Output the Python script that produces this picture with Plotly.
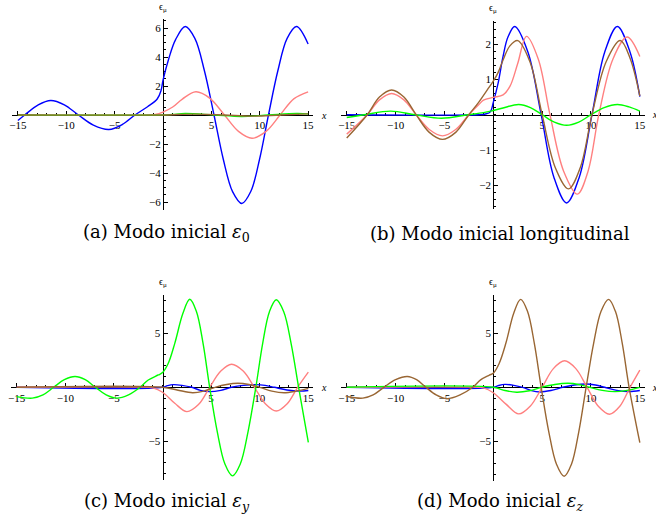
import plotly.graph_objects as go

# ---------------- data ----------------
x_ticks = [-15, -10, -5, 5, 10, 15]
a_y_ticks = [-6, -4, -2, 2, 4, 6]
b_y_ticks = [-2, -1, 1, 2]
c_y_ticks = [-5, 5]
d_y_ticks = [-5, 5]

captions = ["(a) Modo inicial <i>ε</i><sub>0</sub>",
            "(b) Modo inicial longitudinal",
            "(c) Modo inicial <i>ε</i><sub><i>y</i></sub>",
            "(d) Modo inicial <i>ε</i><sub><i>z</i></sub>"]

# panel (a)
a_blue_x = [-15, -14.3, -12.9, -11.6, -10.2, -8.75, -7.2, -5.6, -4.2, -2.9, -1.6, -0.6, -0.2, 0, 0.6, 1.3, 2.3, 3.29, 4.28, 5.27, 6.23, 7.19, 8.15, 9.07, 9.98, 10.9, 11.87, 12.83, 13.8, 15]
a_blue_y = [-0.38, 0, 0.7, 1.0, 0.7, 0, -0.7, -1.0, -0.65, 0, 0.57, 1.1, 1.7, 2.4, 3.9, 5.2, 6.1, 5.28, 3.05, 0, -3.05, -5.28, -6.1, -5.28, -3.05, 0, 3.05, 5.28, 6.1, 4.9]
a_pink_x = [-15, -1.5, -0.8, 0, 1, 2, 3.4, 4.85, 6.35, 7.8, 9.2, 10.65, 12.1, 13.55, 15]
a_pink_y = [0, 0, 0.03, 0.2, 0.55, 1.1, 1.6, 1.15, 0, -1.13, -1.6, -1.13, 0, 1.13, 1.6]
a_green_x = [-15, 0, 1, 2.3, 5.3, 8.15, 10.9, 13.8, 15]
a_green_y = [0, 0, 0.04, 0.1, 0, -0.1, 0, 0.1, 0.08]
a_brown_x = [-15, 0, 1.5, 3.4, 6.35, 9.2, 12.1, 15]
a_brown_y = [0, 0, 0.03, 0.06, 0, -0.08, 0, 0.08]

# panel (b)
b_blue_x = [-15, -1.5, -0.8, -0.3, 0, 0.5, 1.0, 1.5, 2.2, 3.55, 4.9, 6.2, 7.5, 8.8, 10.1, 11.4, 12.7, 14.0, 15]
b_blue_y = [0, 0, 0.02, 0.08, 0.35, 0.9, 1.65, 2.2, 2.5, 1.77, 0, -1.77, -2.5, -1.77, 0, 1.77, 2.5, 1.77, 0.51]
b_pink_x = [-15, -12.9, -11.65, -10.4, -9.15, -7.9, -6.55, -5.2, -3.85, -2.5, -1.5, -1.0, 0, 1.0, 1.7, 2.5, 3.4, 4.6, 5.8, 7.2, 8.6, 9.7, 10.8, 12.25, 13.7, 15]
b_pink_y = [-0.55, 0, 0.42, 0.6, 0.42, 0, -0.42, -0.6, -0.42, 0, 0.28, 0.41, 0.49, 0.56, 0.8, 1.45, 2.22, 1.58, 0, -1.6, -2.25, -1.6, 0, 1.58, 2.2, 1.65]
b_green_x = [-15, -13.2, -10.5, -8.0, -5.3, -2.6, -1, 0, 1, 2.6, 3.8, 5.0, 6.25, 7.5, 8.75, 10.0, 11.35, 12.7, 13.9, 15]
b_green_y = [-0.08, 0, 0.1, 0, -0.1, 0, 0.06, 0.12, 0.19, 0.29, 0.2, 0, -0.21, -0.3, -0.21, 0, 0.2, 0.29, 0.22, 0.1]
b_brown_x = [-15, -12.9, -11.65, -10.4, -9.15, -7.9, -6.55, -5.2, -3.85, -2.5, -1.5, -0.5, 0, 0.5, 1.0, 1.7, 2.5, 3.75, 5.0, 6.35, 7.7, 8.9, 10.1, 11.55, 13.0, 14.0, 15]
b_brown_y = [-0.66, 0, 0.5, 0.7, 0.5, 0, -0.5, -0.7, -0.5, 0, 0.35, 0.75, 0.95, 1.2, 1.55, 1.95, 2.1, 1.5, 0, -1.5, -2.1, -1.5, 0, 1.5, 2.1, 1.6, 0.53]

# panel (c)
c_blue_x = [-15, 0, 0.5, 1.1, 2.0, 3.0, 3.9, 4.85, 6.0, 7.1, 8.35, 9.6, 10.55, 11.5, 12.8, 14.1, 15]
c_blue_y = [0, 0, 0.15, 0.25, 0.18, 0, -0.28, -0.4, -0.28, 0, 0.18, 0.25, 0.18, 0, -0.25, -0.35, -0.3]
c_pink_x = [-15, -1.5, -1, 0, 1.26, 2.5, 3.7, 4.85, 6.0, 7.1, 8.3, 9.45, 10.6, 11.7, 12.8, 13.9, 15]
c_pink_y = [0, 0, -0.05, -0.46, -1.48, -2.25, -1.6, 0, 1.5, 2.13, 1.5, 0, -1.55, -2.2, -1.55, 0, 1.4]
c_green_x = [-15, -13.4, -12.3, -11.2, -10.1, -9.0, -7.95, -6.9, -5.8, -4.7, -3.5, -2.3, -1.47, -0.44, 0, 0.58, 1.26, 2.1, 2.8, 3.48, 4.17, 4.85, 5.63, 6.42, 7.2, 8.0, 8.8, 9.6, 10.3, 11.0, 11.7, 12.47, 13.23, 14.0, 15]
c_green_y = [-0.86, -1.0, -0.7, 0, 0.7, 1.0, 0.7, 0, -0.7, -1.0, -0.7, 0, 0.68, 1.14, 1.36, 2.2, 4.07, 6.85, 8.15, 7.05, 4.07, 0, -4.1, -7.1, -8.2, -7.1, -4.1, 0, 4.05, 7.0, 8.1, 7.0, 4.05, 0, -5.1]
c_brown_x = [-15, 0, 1.5, 3.1, 4.25, 5.4, 6.6, 7.75, 8.9, 10.0, 11.25, 12.5, 13.75, 15]
c_brown_y = [0, 0, -0.25, -0.5, -0.35, 0, 0.26, 0.37, 0.26, 0, -0.35, -0.5, -0.35, -0.1]

# panel (d)
d_blue_x = [-15, 0, 0.5, 1.2, 2.1, 3.0, 3.9, 4.75, 5.9, 7.1, 8.3, 9.5, 10.45, 11.4, 12.65, 13.9, 15]
d_blue_y = [0, 0, 0.15, 0.27, 0.18, 0, -0.3, -0.43, -0.3, 0, 0.21, 0.3, 0.21, 0, -0.28, -0.4, -0.3]
d_pink_x = [-15, -1.5, -1, 0, 1.3, 2.6, 3.8, 5.0, 6.15, 7.3, 8.45, 9.6, 10.75, 11.9, 12.95, 14.0, 15]
d_pink_y = [0, 0, -0.05, -0.5, -1.55, -2.45, -1.72, 0, 1.72, 2.44, 1.72, 0, -1.75, -2.48, -1.75, 0, 1.58]
d_green_x = [-15, 0, 1.2, 2.4, 3.7, 4.95, 6.3, 7.65, 8.75, 9.85, 11.15, 12.45, 13.7, 15]
d_green_y = [0, 0, -0.3, -0.45, -0.32, 0, 0.26, 0.37, 0.26, 0, -0.28, -0.4, -0.28, 0]
d_brown_x = [-15, -13.35, -12.3, -11.2, -10.0, -8.8, -7.85, -6.9, -5.85, -4.75, -3.4, -2.1, -1.3, -0.4, 0, 0.6, 1.3, 2.1, 2.8, 3.5, 4.2, 4.9, 5.68, 6.47, 7.25, 8.0, 8.75, 9.5, 10.27, 11.03, 11.8, 12.5, 13.2, 13.9, 15]
d_brown_y = [-0.85, -1.0, -0.7, 0, 0.7, 1.0, 0.7, 0, -0.7, -1.05, -0.7, 0, 0.68, 1.12, 1.3, 2.2, 4.1, 6.85, 8.1, 7.0, 4.05, 0, -4.1, -7.1, -8.2, -7.1, -4.1, 0, 4.05, 7.0, 8.1, 7.0, 4.05, 0, -5.1]

# ---------------- styling / layout ----------------
W, H = 656, 523
BLUE, PINK, GREEN, BROWN = "rgb(0,0,255)", "rgb(255,128,128)", "rgb(0,255,0)", "rgb(153,102,51)"
TICKFONT = dict(family="Liberation Serif", size=11, color="black")

# per panel: origin pixel (ox, oy), px per unit (sx, sy), ranges, y ticks, minor y step
panels = [
    dict(ox=161.0, oy=115.0, sx=9.733, sy=14.5, xr=[-15.6, 15.5], yr=[-6.55, 6.6], yt=a_y_ticks, ym=0.5,
         curves=[(a_blue_x, a_blue_y, BLUE), (a_pink_x, a_pink_y, PINK), (a_green_x, a_green_y, GREEN), (a_brown_x, a_brown_y, BROWN)],
         cap=(165, 233)),
    dict(ox=493.3, oy=114.7, sx=9.83, sy=35.3, xr=[-15.6, 15.5], yr=[-2.68, 2.66], yt=b_y_ticks, ym=0.2,
         curves=[(b_blue_x, b_blue_y, BLUE), (b_pink_x, b_pink_y, PINK), (b_green_x, b_green_y, GREEN), (b_brown_x, b_brown_y, BROWN)],
         cap=(500, 233)),
    dict(ox=160.5, oy=387.3, sx=9.78, sy=10.8, xr=[-15.6, 15.5], yr=[-8.6, 8.55], yt=c_y_ticks, ym=1,
         curves=[(c_blue_x, c_blue_y, BLUE), (c_pink_x, c_pink_y, PINK), (c_green_x, c_green_y, GREEN), (c_brown_x, c_brown_y, BROWN)],
         cap=(165, 502)),
    dict(ox=493.3, oy=387.3, sx=9.83, sy=10.85, xr=[-15.6, 15.5], yr=[-8.6, 8.55], yt=d_y_ticks, ym=1,
         curves=[(d_blue_x, d_blue_y, BLUE), (d_pink_x, d_pink_y, PINK), (d_green_x, d_green_y, GREEN), (d_brown_x, d_brown_y, BROWN)],
         cap=(500, 502)),
]

fig = go.Figure()
annotations = []
layout = {}

for i, p in enumerate(panels):
    n = "" if i == 0 else str(i + 1)
    for xs, ys, col in p["curves"]:
        fig.add_trace(go.Scatter(x=xs, y=ys, mode="lines", line=dict(color=col, width=1.4, shape="spline", smoothing=1.0),
                                 xaxis="x" + n, yaxis="y" + n, showlegend=False, hoverinfo="skip"))
    ox, oy, sx, sy = p["ox"], p["oy"], p["sx"], p["sy"]
    xdom = [(ox + p["xr"][0] * sx) / W, (ox + p["xr"][1] * sx) / W]
    ydom = [1 - (oy - p["yr"][0] * sy) / H, 1 - (oy - p["yr"][1] * sy) / H]
    layout["xaxis" + n] = dict(domain=xdom, range=p["xr"], anchor="free", position=1 - oy / H, side="bottom",
                               showgrid=False, zeroline=False, showline=True, linecolor="black", linewidth=1.2,
                               tickmode="array", tickvals=x_ticks, ticks="inside", ticklen=4, tickwidth=1, tickcolor="black",
                               minor=dict(tickmode="linear", tick0=0, dtick=1, ticks="inside", ticklen=2, tickwidth=1, tickcolor="black"),
                               tickfont=TICKFONT, layer="below traces", fixedrange=True)
    layout["yaxis" + n] = dict(domain=ydom, range=p["yr"], anchor="free", position=ox / W, side="left",
                               showgrid=False, zeroline=False, showline=True, linecolor="black", linewidth=1.2,
                               tickmode="array", tickvals=p["yt"], ticks="inside", ticklen=4, tickwidth=1, tickcolor="black",
                               minor=dict(tickmode="linear", tick0=0, dtick=p["ym"], ticks="inside", ticklen=2, tickwidth=1, tickcolor="black"),
                               tickfont=TICKFONT, layer="below traces", fixedrange=True)
    # axis labels
    annotations.append(dict(text="ϵ<sub>μ</sub>", x=ox / W, y=1 - (oy - p["yr"][1] * sy - 12) / H, xref="paper", yref="paper",
                            xanchor="center", yanchor="middle",
                            showarrow=False, font=dict(family="Liberation Serif", size=10, color="black")))
    annotations.append(dict(text="<i>x</i>", x=(ox + 16.6 * sx) / W, y=1 - oy / H, xref="paper", yref="paper",
                            xanchor="center", yanchor="middle",
                            showarrow=False, font=dict(family="Liberation Serif", size=10, color="black")))
    cx, cy = p["cap"]
    annotations.append(dict(text=captions[i], x=cx / W, y=1 - cy / H, xref="paper", yref="paper", showarrow=False,
                            xanchor="center", yanchor="middle",
                            font=dict(family="DejaVu Serif", size=18, color="black")))

fig.update_layout(width=W, height=H, margin=dict(l=0, r=0, t=0, b=0), paper_bgcolor="white", plot_bgcolor="white",
                  annotations=annotations, **layout)
fig.write_html("out.html", config={"displayModeBar": False},
               post_script="document.body.style.margin='0';document.body.style.overflow='hidden';")
